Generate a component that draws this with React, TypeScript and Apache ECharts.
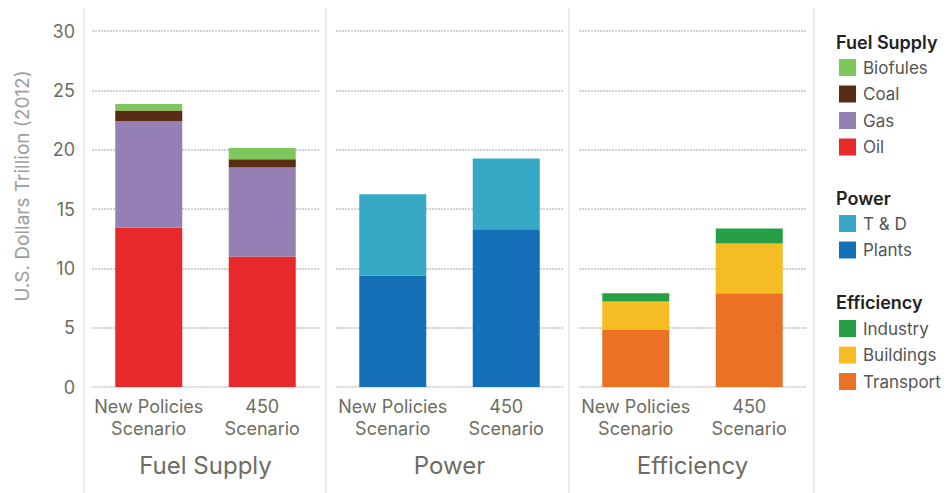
import React, { useEffect, useRef } from "react";
import * as echarts from "echarts";

const scenarios = ["New Policies\nScenario", "450\nScenario"];
const panels = ["Fuel Supply", "Power", "Efficiency"];
const yTicks = [0, 5, 10, 15, 20, 25, 30];

// Fuel Supply
const oil = [13.45, 11.0];
const gas = [8.95, 7.5];
const coal = [0.9, 0.7];
const biofules = [0.55, 0.95];
// Power
const plants = [9.4, 13.3];
const td = [6.85, 5.95];
// Efficiency
const transport = [4.8, 7.9];
const buildings = [2.4, 4.2];
const industry = [0.7, 1.25];

const fuelSeries = [
  { name: "Oil", data: oil, color: "#e8292b" },
  { name: "Gas", data: gas, color: "#9580b6" },
  { name: "Coal", data: coal, color: "#5a2c14" },
  { name: "Biofules", data: biofules, color: "#7ec75c" },
];
const powerSeries = [
  { name: "Plants", data: plants, color: "#1670b7" },
  { name: "T & D", data: td, color: "#37a8c5" },
];
const effSeries = [
  { name: "Transport", data: transport, color: "#eb7125" },
  { name: "Buildings", data: buildings, color: "#f5bd23" },
  { name: "Industry", data: industry, color: "#26a047" },
];

const FONT = "Inter, 'Noto Sans', sans-serif";
const LABEL = "#6d6d60";

export default function App() {
  const ref = useRef<HTMLDivElement>(null);
  useEffect(() => {
    if (!ref.current) return;
    const chart = echarts.init(ref.current, undefined, { renderer: "svg" });
    const gridLefts = [92, 336, 579];
    const grids = gridLefts.map((l) => ({ left: l, width: 227, top: 31, height: 356 }));
    const xAxes = panels.map((p, i) => ({
      type: "category",
      gridIndex: i,
      data: scenarios,
      axisTick: { show: false },
      axisLine: { show: true, lineStyle: { color: "#e2e2e4", width: 1 } },
      axisLabel: {
        color: LABEL,
        fontSize: 18,
        fontFamily: FONT,
        lineHeight: 22,
        margin: 8,
        interval: 0,
        align: "center",
      },
      name: p,
      nameLocation: "middle",
      nameGap: 66,
      nameTextStyle: { color: LABEL, fontSize: 24, fontFamily: FONT },
    }));
    const yAxes = panels.map((_, i) => ({
      type: "value",
      gridIndex: i,
      min: 0,
      max: 30,
      interval: 5,
      axisLine: { show: false },
      axisTick: { show: false },
      axisLabel: {
        show: i === 0,
        color: LABEL,
        fontSize: 18,
        fontFamily: FONT,
        margin: 17,
        formatter: (v: number) => (yTicks.includes(v) ? String(v) : ""),
      },
      splitLine: {
        show: true,
        lineStyle: { color: "#c2c2c6", type: [2, 1], width: 1.5 },
      },
    }));
    const mk = (arr: any[], idx: number, stack: string) =>
      arr.map((s) => ({
        type: "bar",
        name: s.name,
        xAxisIndex: idx,
        yAxisIndex: idx,
        stack,
        data: s.data,
        barWidth: 67,
        itemStyle: { color: s.color },
      }));
    const series = [
      ...mk(fuelSeries, 0, "fuel"),
      ...mk(powerSeries, 1, "power"),
      ...mk(effSeries, 2, "eff"),
    ];
    const legendBase = {
      orient: "vertical",
      left: 834,
      icon: "rect",
      itemWidth: 17,
      itemHeight: 17,
      itemGap: 9.5,
      selectedMode: false,
      textStyle: { color: "#555", fontSize: 17, fontFamily: FONT, padding: [0, 0, 0, 2] },
    };
    const divider = (x: number) => ({
      type: "line",
      shape: { x1: x, y1: 8, x2: x, y2: 493 },
      style: { stroke: "#d9d9de", lineWidth: 1 },
    });
    const header = (text: string, y: number) => ({
      type: "text",
      left: 836,
      top: y,
      style: { text, fill: "#222", font: `600 18px ${FONT}` },
    });
    chart.setOption({
      animation: false,
      grid: grids,
      xAxis: xAxes,
      yAxis: yAxes,
      series,
      legend: [
        { ...legendBase, top: 54, data: ["Biofules", "Coal", "Gas", "Oil"] },
        { ...legendBase, top: 210, data: ["T & D", "Plants"] },
        { ...legendBase, top: 315, data: ["Industry", "Buildings", "Transport"] },
      ],
      graphic: [
        divider(84),
        divider(326),
        divider(569),
        divider(814),
        header("Fuel Supply", 33),
        header("Power", 189),
        header("Efficiency", 293),
        {
          type: "text",
          x: 22,
          y: 186,
          rotation: Math.PI / 2,
          style: {
            text: "U.S. Dollars Trillion (2012)",
            fill: "#9d9d9d",
            font: `19px ${FONT}`,
            textAlign: "center",
            textVerticalAlign: "middle",
          },
        },
      ],
    });
    return () => chart.dispose();
  }, []);
  return <div ref={ref} style={{ width: 947, height: 493, position: "absolute", left: 0, top: 0 }} />;
}
